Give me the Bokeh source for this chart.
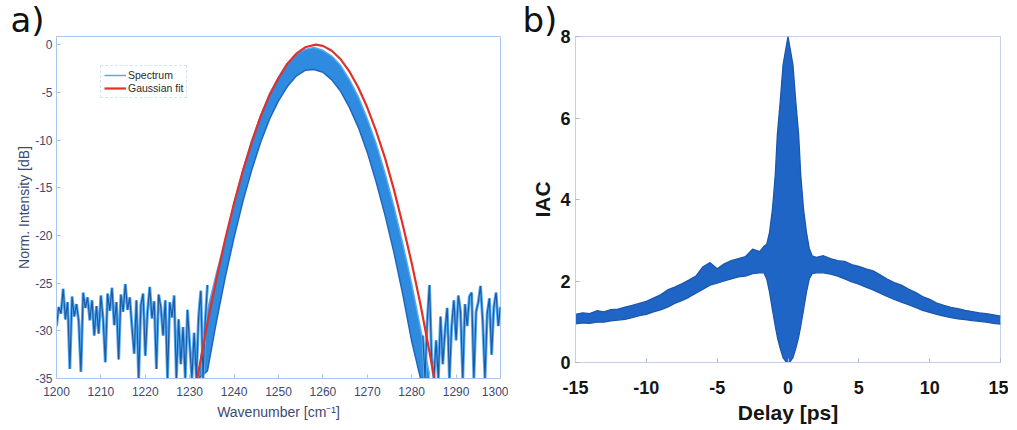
from bokeh.plotting import figure
from bokeh.layouts import row, column
from bokeh.models import Range1d, Legend, LegendItem, Title, FixedTicker
from bokeh.embed import file_html
from bokeh.resources import INLINE

# ---------------- panel a data ----------------
noise_left_x = [1200.0, 1200.5, 1201.0, 1201.5, 1202.0, 1202.5, 1203.0, 1203.5, 1204.0, 1204.5,
                1205.0, 1205.5, 1206.0, 1206.5, 1207.0, 1207.5, 1208.0, 1208.5, 1209.0, 1209.5,
                1210.0, 1210.5, 1211.0, 1211.5, 1212.0, 1212.5, 1213.0, 1213.5, 1214.0, 1214.5,
                1215.0, 1215.5, 1216.0, 1216.5, 1217.0, 1217.5, 1218.0, 1218.5, 1219.0, 1219.5,
                1220.0, 1220.5, 1221.0, 1221.5, 1222.0, 1222.5, 1223.0, 1223.5, 1224.0, 1224.5,
                1225.0, 1225.5, 1226.0, 1226.5, 1227.0, 1227.5, 1228.0, 1228.5, 1229.0, 1229.5,
                1230.0, 1230.5, 1231.0, 1231.5, 1232.0, 1232.5, 1233.0, 1233.5, 1234.0]
noise_left_y = [-29.5, -27.5, -28.2, -25.6, -28.8, -27.0, -34.0, -26.4, -28.5, -27.2,
                -29.0, -34.3, -26.0, -27.6, -26.5, -28.9, -26.8, -30.5, -27.4, -30.3,
                -26.3, -28.8, -33.3, -26.1, -27.9, -25.5, -29.4, -27.0, -33.0, -26.2,
                -28.0, -25.1, -27.8, -26.5, -29.6, -32.4, -26.8, -35.0, -27.3, -26.1,
                -32.6, -28.0, -25.4, -28.7, -26.9, -34.0, -26.2, -27.5, -30.5, -26.8,
                -35.0, -27.0, -28.6, -26.3, -35.0, -28.8, -33.5, -29.6, -35.0, -27.8,
                -31.5, -35.0, -30.2, -35.0, -28.6, -25.8, -35.0, -29.0, -25.2]

noise_right_x = [1282.5, 1283.0, 1283.5, 1284.0, 1284.5, 1285.0, 1285.5, 1286.0, 1286.5, 1287.0,
                 1287.5, 1288.0, 1288.5, 1289.0, 1289.5, 1290.0, 1290.5, 1291.0, 1291.5, 1292.0,
                 1292.5, 1293.0, 1293.5, 1294.0, 1294.5, 1295.0, 1295.5, 1296.0, 1296.5, 1297.0,
                 1297.5, 1298.0, 1298.5, 1299.0, 1299.5, 1300.0]
noise_right_y = [-30.5, -35.0, -29.0, -25.2, -33.0, -35.0, -31.0, -35.0, -28.5, -33.5,
                 -30.0, -27.6, -35.0, -29.5, -26.8, -31.0, -26.3, -28.0, -35.0, -27.2,
                 -29.5, -26.4, -26.0, -35.0, -28.0, -27.0, -25.3, -29.0, -35.0, -28.2,
                 -26.6, -32.5, -27.5, -26.0, -29.5, -27.5]

band_x = [1232, 1234, 1236, 1238, 1240, 1242, 1244, 1246, 1248, 1250, 1252, 1254, 1256, 1258,
          1260, 1262, 1264, 1266, 1268, 1270, 1272, 1274, 1276, 1278, 1280, 1282, 1284]
band_upper = [-34.6, -27.8, -24.0, -20.5, -16.6, -13.1, -10.0, -7.4, -5.1, -3.4, -2.0, -1.0, -0.5, -0.3,
              -0.6, -1.2, -2.2, -3.7, -5.5, -7.8, -10.4, -13.5, -17.0, -20.9, -25.1, -29.8, -34.6]
band_lower = [-35.0, -34.2, -29.1, -24.4, -20.2, -16.4, -13.1, -10.2, -7.8, -5.9, -4.4, -3.3, -2.7, -2.6,
              -2.9, -3.7, -4.9, -6.6, -8.7, -11.3, -14.4, -17.9, -21.8, -26.2, -31.1, -35.0, -35.0]

fit_x = [1231.7, 1234, 1236, 1238, 1240, 1242, 1244, 1246, 1248, 1250, 1252, 1254, 1256, 1258.4,
         1260, 1262, 1264, 1266, 1268, 1270, 1272, 1274, 1276, 1278, 1280, 1282, 1284, 1285.1]
fit_y = [-35.0, -29.2, -24.6, -20.4, -16.6, -13.2, -10.2, -7.5, -5.3, -3.5, -2.0, -0.95, -0.28, 0.0,
         -0.13, -0.64, -1.54, -2.84, -4.52, -6.6, -9.08, -11.9, -15.2, -18.9, -22.9, -27.3, -32.2, -35.0]

a_xticks = [1200, 1210, 1220, 1230, 1240, 1250, 1260, 1270, 1280, 1290, 1300]
a_yticks = [0, -5, -10, -15, -20, -25, -30, -35]

# ---------------- panel b data ----------------
delay = [-15.0, -14.5, -14.0, -13.5, -13.0, -12.5, -12.0, -11.5, -11.0, -10.5, -10.0, -9.5, -9.0,
         -8.5, -8.0, -7.5, -7.0, -6.5, -6.0, -5.5, -5.0, -4.5, -4.0, -3.5, -3.0, -2.5, -2.0, -1.7,
         -1.5, -1.3, -1.1, -0.9, -0.75, -0.55, -0.35, -0.15, 0.0, 0.15, 0.35, 0.55, 0.75, 0.9, 1.1,
         1.3, 1.5, 1.7, 2.0, 2.5, 3.0, 3.5, 4.0, 4.5, 5.0, 5.5, 6.0, 6.5, 7.0, 7.5, 8.0, 8.5, 9.0,
         9.5, 10.0, 10.5, 11.0, 11.5, 12.0, 12.5, 13.0, 13.5, 14.0, 14.5, 15.0]
iac_upper = [1.18, 1.22, 1.20, 1.27, 1.24, 1.30, 1.31, 1.36, 1.40, 1.45, 1.50, 1.58, 1.66,
             1.78, 1.85, 1.93, 2.02, 2.12, 2.35, 2.45, 2.30, 2.42, 2.50, 2.55, 2.60, 2.78, 2.72, 2.85,
             2.9, 3.2, 3.75, 4.6, 5.6, 6.4, 7.3, 7.7, 8.0, 7.7, 7.3, 6.4, 5.6, 4.6, 3.75,
             3.2, 2.8, 2.62, 2.58, 2.62, 2.55, 2.50, 2.48, 2.40, 2.36, 2.30, 2.25, 2.15, 2.05, 1.96, 1.90, 1.80, 1.72,
             1.62, 1.55, 1.46, 1.40, 1.35, 1.32, 1.28, 1.25, 1.22, 1.20, 1.17, 1.14]
iac_lower = [0.95, 0.97, 0.96, 0.99, 0.99, 1.02, 1.04, 1.06, 1.10, 1.15, 1.18, 1.24, 1.29,
             1.36, 1.45, 1.52, 1.60, 1.70, 1.80, 1.90, 1.95, 2.00, 2.05, 2.10, 2.12, 2.18, 2.20, 2.20,
             2.05, 1.72, 1.30, 0.90, 0.62, 0.35, 0.12, 0.02, 0.0, 0.02, 0.12, 0.35, 0.62, 0.90, 1.30,
             1.72, 2.05, 2.18, 2.20, 2.20, 2.17, 2.12, 2.05, 1.98, 1.92, 1.85, 1.78, 1.70, 1.62, 1.55, 1.48, 1.42, 1.35,
             1.28, 1.23, 1.18, 1.14, 1.10, 1.07, 1.05, 1.03, 1.01, 0.99, 0.96, 0.94]

b_xticks = [-15, -10, -5, 0, 5, 10, 15]
b_yticks = [0, 2, 4, 6, 8]


def hyphen_labels(ticks):
    return {t: str(t) for t in ticks}


# ---------------- panel a ----------------
A_TXT = "#3c4a72"
A_AX = "#a9c6ee"

pa = figure(width=508, height=428, output_backend="svg", toolbar_location=None,
            x_range=Range1d(1200, 1300), y_range=Range1d(-35, 0.85),
            min_border_left=56, min_border_right=8, min_border_top=0, min_border_bottom=50)
pa.grid.visible = False
pa.outline_line_color = A_AX
pa.outline_line_width = 1
pa.add_layout(Title(text="a)", align="left", offset=-46, standoff=-6,
                    text_font="DejaVu Sans", text_font_size="34px",
                    text_font_style="normal", text_color="#111111"), "above")

pa.varea(x=band_x, y1=band_lower, y2=band_upper, fill_color="#2f8be0", fill_alpha=1.0)
pa.line(band_x, band_upper, line_color="#55aaee", line_width=1.5)
pa.line(band_x, band_lower, line_color="#1f68bd", line_width=1.5)

pa.line(noise_left_x, noise_left_y, line_color="#5aaef0", line_width=3)
pa.line(noise_left_x, noise_left_y, line_color="#1c5aa8", line_width=1.2)
pa.line(noise_right_x, noise_right_y, line_color="#5aaef0", line_width=3)
pa.line(noise_right_x, noise_right_y, line_color="#1c5aa8", line_width=1.2)

r_fit = pa.line(fit_x, fit_y, line_color="#e4302a", line_width=2.2)

leg_spec = pa.line([1200, 1201], [-100, -100], line_color="#5aa8ee", line_width=1.5)
legend = Legend(items=[LegendItem(label="Spectrum", renderers=[leg_spec]),
                       LegendItem(label="Gaussian fit", renderers=[r_fit])],
                location=(44, 280))
legend.label_text_font = "Liberation Sans"
legend.label_text_font_size = "10.5px"
legend.label_text_color = "#2a2a2a"
legend.glyph_width = 22
legend.glyph_height = 12
legend.label_height = 12
legend.label_standoff = 2
legend.spacing = 1
legend.padding = 3
legend.margin = 0
legend.border_line_color = A_AX
legend.border_line_dash = "2 2"
legend.background_fill_alpha = 1.0
pa.add_layout(legend)

pa.xaxis.ticker = FixedTicker(ticks=a_xticks)
pa.yaxis.ticker = FixedTicker(ticks=a_yticks)
pa.xaxis.major_label_overrides = hyphen_labels(a_xticks)
pa.yaxis.major_label_overrides = hyphen_labels(a_yticks)
for ax in (pa.xaxis[0], pa.yaxis[0]):
    ax.axis_line_color = A_AX
    ax.major_tick_line_color = A_AX
    ax.major_tick_in = 4
    ax.major_tick_out = 0
    ax.minor_tick_line_color = None
    ax.major_label_text_font = "Liberation Sans"
    ax.major_label_text_font_size = "12px"
    ax.major_label_text_color = A_TXT
    ax.axis_label_text_font = "Liberation Sans"
    ax.axis_label_text_font_size = "14px"
    ax.axis_label_text_font_style = "normal"
    ax.axis_label_text_color = A_TXT
pa.xaxis.axis_label = "Wavenumber [cm⁻¹]"
pa.yaxis.axis_label = "Norm. Intensity [dB]"
pa.xaxis.major_label_standoff = 8
pa.xaxis.axis_label_standoff = 5
pa.yaxis.major_label_standoff = 4
pa.yaxis.axis_label_standoff = 0

# ---------------- panel b ----------------
B_AX = "#c9cdea"
pb = figure(width=500, height=428, output_backend="svg", toolbar_location=None,
            x_range=Range1d(-15, 15), y_range=Range1d(0, 8),
            min_border_left=67, min_border_right=8, min_border_top=0, min_border_bottom=66)
pb.grid.visible = False
pb.outline_line_color = B_AX
pb.add_layout(Title(text="b)", align="left", offset=-53, standoff=-6,
                    text_font="DejaVu Sans", text_font_size="34px",
                    text_font_style="normal", text_color="#111111"), "above")

pb.varea(x=delay, y1=iac_lower, y2=iac_upper, fill_color="#1f65c6", fill_alpha=1.0)
pb.line(delay, iac_upper, line_color="#1d57ad", line_width=1.3)
pb.line(delay, iac_lower, line_color="#1d57ad", line_width=1.3)

pb.xaxis.ticker = FixedTicker(ticks=b_xticks)
pb.yaxis.ticker = FixedTicker(ticks=b_yticks)
pb.xaxis.major_label_overrides = hyphen_labels(b_xticks)
pb.yaxis.major_label_overrides = hyphen_labels(b_yticks)
for ax in (pb.xaxis[0], pb.yaxis[0]):
    ax.axis_line_color = B_AX
    ax.major_tick_line_color = "#b0b4d0"
    ax.major_tick_in = 4
    ax.major_tick_out = 0
    ax.minor_tick_line_color = None
    ax.major_label_text_font = "Liberation Sans"
    ax.major_label_text_font_size = "18px"
    ax.major_label_text_font_style = "bold"
    ax.major_label_text_color = "#151515"
    ax.axis_label_text_font = "Liberation Sans"
    ax.axis_label_text_font_size = "21px"
    ax.axis_label_text_font_style = "bold"
    ax.axis_label_text_color = "#151515"
pb.xaxis.axis_label = "Delay [ps]"
pb.yaxis.axis_label = "IAC"
pb.xaxis.major_label_standoff = 18
pb.xaxis.axis_label_standoff = 4
pb.yaxis.major_label_standoff = 5
pb.yaxis.axis_label_standoff = 3

layout = row(column(pa), column(pb))
open("out.html", "w").write(file_html(layout, INLINE))
